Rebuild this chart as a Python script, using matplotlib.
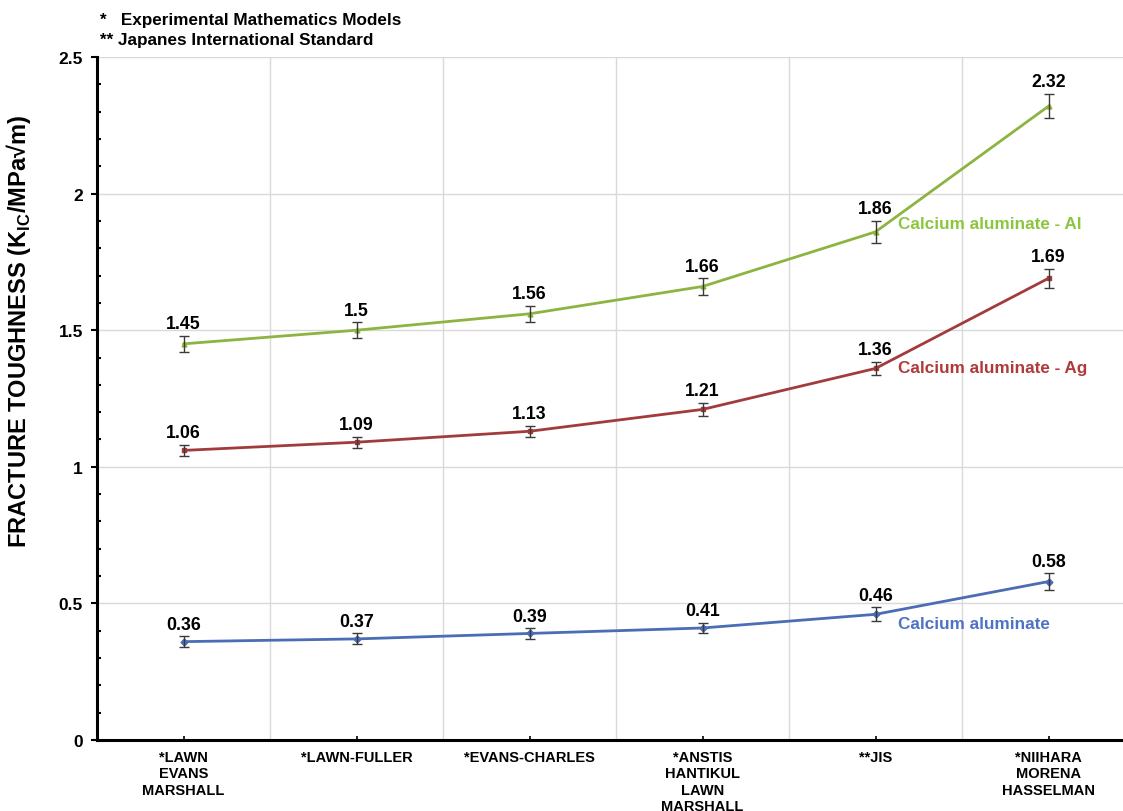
import matplotlib
matplotlib.use("Agg")
import matplotlib.pyplot as plt
from matplotlib.ticker import MultipleLocator

plt.rcParams["font.family"] = ["Liberation Sans", "DejaVu Sans"]
plt.rcParams["mathtext.fontset"] = "custom"
plt.rcParams["mathtext.bf"] = "Liberation Sans:bold"
plt.rcParams["mathtext.rm"] = "Liberation Sans:bold"

# Fracture-toughness models
categories = [
    "*LAWN\nEVANS\nMARSHALL",
    "*LAWN-FULLER",
    "*EVANS-CHARLES",
    "*ANSTIS\nHANTIKUL\nLAWN\nMARSHALL",
    "**JIS",
    "*NIIHARA\nMORENA\nHASSELMAN",
]

al_values = [1.45, 1.50, 1.56, 1.66, 1.86, 2.32]
al_errors = [0.03, 0.03, 0.03, 0.03, 0.04, 0.045]

ag_values = [1.06, 1.09, 1.13, 1.21, 1.36, 1.69]
ag_errors = [0.02, 0.02, 0.02, 0.025, 0.025, 0.035]

base_values = [0.36, 0.37, 0.39, 0.41, 0.46, 0.58]
base_errors = [0.02, 0.02, 0.02, 0.02, 0.025, 0.03]

value_labels_al = ["1.45", "1.5", "1.56", "1.66", "1.86", "2.32"]
value_labels_ag = ["1.06", "1.09", "1.13", "1.21", "1.36", "1.69"]
value_labels_base = ["0.36", "0.37", "0.39", "0.41", "0.46", "0.58"]

series = [
    ("Calcium aluminate - Al", al_values, al_errors, value_labels_al,
     "#8db441", "#8cc63f", 1.89, "^"),
    ("Calcium aluminate - Ag", ag_values, ag_errors, value_labels_ag,
     "#a23b3b", "#b03a3a", 1.365, "s"),
    ("Calcium aluminate", base_values, base_errors, value_labels_base,
     "#4a6db5", "#4f73c4", 0.425, "D"),
]

fig = plt.figure(figsize=(11.23, 8.12), dpi=100)
ax = fig.add_axes([97 / 1123, 71 / 812, 1038 / 1123, 683 / 812])

x = list(range(len(categories)))

for name, vals, errs, labels, color, text_color, label_y, marker in series:
    ax.plot(x, vals, color=color, lw=2.0, marker=marker, ms=3.5,
            zorder=3, solid_capstyle="round")
    ax.errorbar(x, vals, yerr=errs, fmt="none", ecolor="#3a3a3a",
                elinewidth=1.0, capsize=3.5, capthick=1.0, zorder=4)
    for xi, v, e, lab in zip(x, vals, errs, labels):
        ax.annotate(lab, (xi, v + e), xytext=(0, 2.5), textcoords="offset points",
                    ha="center", va="bottom", fontsize=12.8,
                    fontweight="bold", color="black", zorder=5)
    ax.text(4.13, label_y, name, color=text_color, fontsize=12.3,
            fontweight="bold", ha="left", va="center", zorder=5)

ax.set_xlim(-0.5, len(categories) - 0.5)
ax.set_ylim(0, 2.5)

ax.set_xticks(x)
ax.set_xticklabels(categories, fontsize=10.5, fontweight="bold",
                   linespacing=1.22, va="top")
ax.tick_params(axis="x", direction="in", length=3, width=1.2, pad=7)

ax.yaxis.set_major_locator(MultipleLocator(0.5))
ax.yaxis.set_minor_locator(MultipleLocator(0.1))
ax.set_yticks([0, 0.5, 1, 1.5, 2, 2.5])
ax.set_yticklabels(["0", "0.5", "1", "1.5", "2", "2.5"],
                   fontsize=12.5, fontweight="bold")
ax.tick_params(axis="y", which="major", direction="out", length=4,
               width=1.5, pad=6)
ax.tick_params(axis="y", which="minor", direction="in", length=3, width=1.5)

# Vertical gridlines between categories, horizontal at major ticks
for b in range(1, len(categories)):
    ax.axvline(b - 0.5, color="#d9d9d9", lw=1.0, zorder=0)
ax.yaxis.grid(True, which="major", color="#d9d9d9", lw=1.0, zorder=0)
ax.set_axisbelow(True)

for side in ("top", "right"):
    ax.spines[side].set_visible(False)
ax.spines["left"].set_linewidth(2.2)
ax.spines["bottom"].set_linewidth(2.2)

ax.set_ylabel(r"FRACTURE TOUGHNESS (K$_{\mathbf{IC}}$/MPa√m)",
              fontsize=17, fontweight="bold")
ax.yaxis.set_label_coords(-0.062, 0.60)

fig.text(100 / 1123, 1 - 20 / 812, "*   Experimental Mathematics Models",
         fontsize=12.3, fontweight="bold", va="center", ha="left")
fig.text(100 / 1123, 1 - 41 / 812, "** Japanes International Standard",
         fontsize=12.3, fontweight="bold", va="center", ha="left")

fig.savefig("out.png", dpi=100, facecolor="white")
